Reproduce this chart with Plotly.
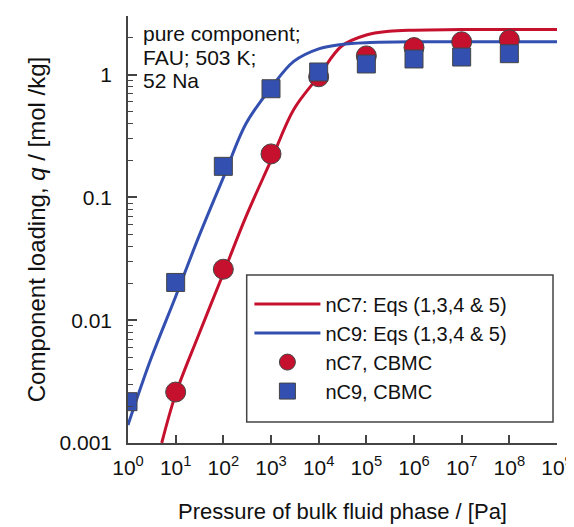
import plotly.graph_objects as go
import numpy as np

# CBMC simulation data
p_cbmc7 = [1e1, 1e2, 1e3, 1e4, 1e5, 1e6, 1e7, 1e8]
q_nc7 = [0.0026, 0.026, 0.226, 0.96, 1.42, 1.66, 1.85, 1.92]
p_cbmc9 = [1e0, 1e1, 1e2, 1e3, 1e4, 1e5, 1e6, 1e7, 1e8]
q_nc9 = [0.00217, 0.0203, 0.179, 0.767, 1.05, 1.22, 1.34, 1.39, 1.48]

# Model curves
p_eq7 = [5.1, 10, 30, 100, 300, 1000, 3000, 1e4, 3e4, 1e5, 3e5, 1e6, 1e7, 1e8, 1e9]
q_eq7 = [0.001, 0.0025, 0.0075, 0.024, 0.07, 0.2, 0.52, 0.97, 1.7, 2.1, 2.25, 2.3, 2.33, 2.33, 2.33]
p_eq9 = [1, 3, 10, 30, 100, 300, 1000, 3000, 1e4, 3e4, 1e5, 1e6, 1e7, 1e8, 1e9]
q_eq9 = [0.0014, 0.0048, 0.0156, 0.047, 0.145, 0.4, 0.78, 1.28, 1.62, 1.76, 1.82, 1.85, 1.85, 1.85, 1.85]

x_tickvals = [10**k for k in range(10)]
x_ticktext = ["10<sup>%d</sup>" % k for k in range(10)]
y_tickvals = [0.001, 0.01, 0.1, 1]
y_ticktext = ["0.001", "0.01", "0.1", "1"]
y_minor = [m * 10**e for e in range(-3, 1) for m in range(2, 10) if m * 10**e <= 3.0001]

info_lines = ["pure component;", "FAU; 503 K;", "52 Na"]

RED = "#c5102e"
BLUE = "#3350b0"
AX = "#444444"
FONT = "Liberation Sans, Arial, sans-serif"

fig = go.Figure()
fig.add_trace(go.Scatter(x=p_eq7, y=q_eq7, mode="lines", line=dict(color=RED, width=3, shape="spline"),
                         name="nC7: Eqs (1,3,4 &amp; 5)"))
fig.add_trace(go.Scatter(x=p_eq9, y=q_eq9, mode="lines", line=dict(color=BLUE, width=3, shape="spline"),
                         name="nC9: Eqs (1,3,4 &amp; 5)"))
fig.add_trace(go.Scatter(x=p_cbmc7, y=q_nc7, mode="markers",
                         marker=dict(symbol="circle", size=20, color=RED, line=dict(color=AX, width=1)),
                         name="nC7, CBMC"))
fig.add_trace(go.Scatter(x=p_cbmc9, y=q_nc9, mode="markers",
                         marker=dict(symbol="square", size=18, color=BLUE, line=dict(color=AX, width=1)),
                         name="nC9, CBMC"))

# legend box drawn as a shape for padding control
fig.add_shape(type="rect", xref="paper", yref="paper", x0=0.2767, x1=0.9907, y0=0.049, y1=0.3934,
              line=dict(color=AX, width=1.5), fillcolor="white", layer="below")

annotations = []
for i, t in enumerate(info_lines):
    annotations.append(dict(text=t, x=0.03, y=(427 - (17 + 24 * i)) / 427, xref="paper", yref="paper",
                            xanchor="left", yanchor="middle", align="left", showarrow=False,
                            font=dict(size=21)))

# page body has an 8px default margin, so margins are offset by 8px
fig.update_layout(
    width=574, height=527,
    margin=dict(l=120, r=25, t=8, b=92),
    paper_bgcolor="white", plot_bgcolor="white",
    font=dict(family=FONT, size=20, color="#111"),
    showlegend=True,
    legend=dict(x=0.283, y=0.371, xanchor="left", yanchor="top",
                bgcolor="rgba(0,0,0,0)", borderwidth=0,
                font=dict(size=20), itemwidth=66, tracegroupgap=0),
    annotations=annotations,
)
fig.update_xaxes(type="log", range=[0, 9], tickvals=x_tickvals, ticktext=x_ticktext,
                 ticks="inside", ticklen=8, tickwidth=1.5, tickcolor=AX, tickfont=dict(size=21),
                 ticklabelstandoff=5,
                 showline=True, linecolor=AX, linewidth=1.5, showgrid=False, zeroline=False,
                 title=dict(text="Pressure of bulk fluid phase / [Pa]", standoff=26, font=dict(size=22)))
fig.update_yaxes(type="log", range=[-3, np.log10(3)], tickvals=y_tickvals, ticktext=y_ticktext,
                 ticks="inside", ticklen=9, tickwidth=1.5, tickcolor=AX, tickfont=dict(size=21),
                 ticklabelstandoff=10,
                 minor=dict(tickvals=y_minor, ticks="inside", ticklen=5, tickwidth=1.2, tickcolor=AX, showgrid=False),
                 showline=True, linecolor=AX, linewidth=1.5, showgrid=False, zeroline=False,
                 title=dict(text="Component loading, <i>q</i> / [mol /kg]", standoff=7, font=dict(size=24)))

fig.write_html("out.html")
